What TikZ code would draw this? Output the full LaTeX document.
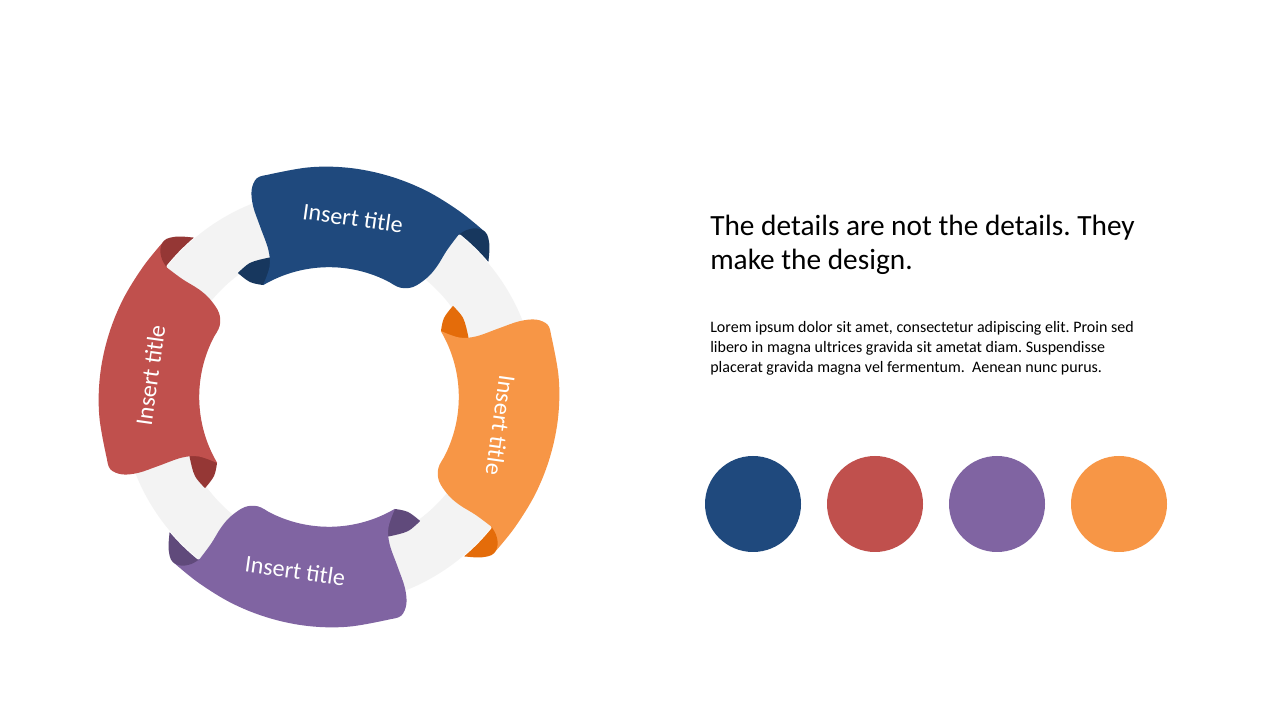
\documentclass[tikz,border=0pt]{standalone}
\usepackage{fontspec}
\setmainfont{Carlito}
\usetikzlibrary{positioning}
\definecolor{rbBlue}{HTML}{1F497D}
\definecolor{rbBlueDk}{HTML}{17375E}
\definecolor{rbRed}{HTML}{C0504D}
\definecolor{rbRedDk}{HTML}{953735}
\definecolor{rbPurple}{HTML}{8064A2}
\definecolor{rbPurpleDk}{HTML}{604A7B}
\definecolor{rbOrange}{HTML}{F79646}
\definecolor{rbOrangeDk}{HTML}{E46C0A}
\definecolor{ringgray}{HTML}{F3F3F3}
\frenchspacing
\begin{document}
\begin{tikzpicture}[x=0.75pt,y=0.75pt,
	swatch/.style={circle,minimum size=72pt,inner sep=0pt},
	ribtext/.style={text=white,inner sep=0pt,font=\fontsize{18}{20}\selectfont},
	headline/.style={anchor=base west,inner sep=0pt,font=\fontsize{22}{26}\selectfont},
	bodyline/.style={anchor=base west,inner sep=0pt,font=\fontsize{12}{14.6}\selectfont}]
\useasboundingbox (0,0) rectangle (1280,720);
\fill[white] (0,0) rectangle (1280,720);

%grey ring
\coordinate (o) at (329,323);
\fill[ringgray,even odd rule] (o) circle[radius=208] circle[radius=152];

%ribbons (one shape, turned by 90 each time)
\foreach\rot/\main/\dark/\trot/\tpos/\name in {0/rbBlue/rbBlueDk/-8/{82.4:180.6}/rtop,-90/rbOrange/rbOrangeDk/-98/{80.6:174}/rright,-180/rbPurple/rbPurpleDk/-8/{79:177}/rbottom,90/rbRed/rbRedDk/82/{83:180}/rleft}{
	\begin{scope}[shift={(o)},rotate=\rot]
	%inner flap
	\fill[fill=\dark] plot[smooth,tension=.6] coordinates {(126.3:153.8) (120.5:155.6) (113.7:152) (111.5:150)}
		-- (113:134) -- plot[smooth,tension=.6] coordinates {(120.5:130) (124.5:139.5) (126.3:153.8)} -- cycle;
	%front of the ribbon
	\fill[fill=\main] plot[smooth,tension=.6] coordinates {(120.5:130) (114.6:143) (112.4:159) (112:184) (111.7:205) (110.5:221) (108.3:230.3) (105.7:230.6)}
		-- plot[smooth,tension=.6] coordinates {(105.7:230.6) (95:230.5) (85:230) (75:229) (65:228) (55:227) (47:227)}
		-- (51.4:207.6)
		-- plot[smooth,tension=.6] coordinates {(51.4:207.6) (51.2:188) (50.4:169) (50.6:154) (52.6:138.5) (56.9:130.5) (62:129.8)}
		arc[start angle=62,end angle=120.5,radius=129.8] -- cycle;
	%outer flap
	\fill[fill=\dark] plot[smooth,tension=.6] coordinates {(51.4:207.6) (50.5:216.4) (48.8:224.2) (46.7:227.3) (44.9:225) (42.8:218.7) (40.3:209)}
		arc[start angle=40.3,end angle=51.4,radius=209] -- cycle;
	\node[ribtext,rotate=\trot] (\name) at (\tpos) {Insert title};
	\end{scope}}

%text on the right
\node[headline] (head1) at (710,484) {The details are not the details. They};
\node[headline] (head2) at (710,450) {make the design.};
\node[bodyline] (body1) at (710,387) {Lorem ipsum dolor sit amet, consectetur adipiscing elit. Proin sed};
\node[bodyline] (body2) at (710,367) {libero in magna ultrices gravida sit ametat diam. Suspendisse};
\node[bodyline] (body3) at (710,347) {placerat gravida magna vel fermentum.~ Aenean nunc purus.};

%colour dots
\foreach\x/\c in {1/rbBlue,2/rbRed,3/rbPurple,4/rbOrange}{
	\node[swatch,fill=\c] (dot\x) at (753+122*\x-122,216) {};}
\end{tikzpicture}
\end{document}
